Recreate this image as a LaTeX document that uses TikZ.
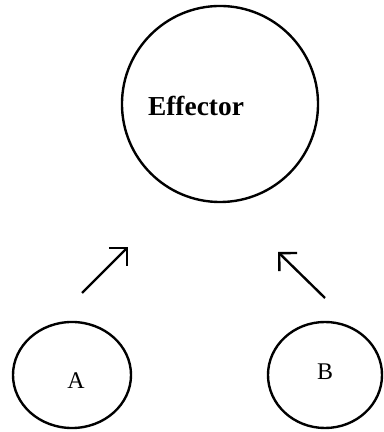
\documentclass[tikz,border=0pt]{standalone}
\usepackage{fontspec}
\setmainfont{Liberation Serif}
\usetikzlibrary{arrows.meta,shapes.geometric}
\tikzset{
  big/.style   ={draw,circle,line width=1.7pt,minimum size=4.9cm,inner sep=0pt},
  small/.style ={draw,ellipse,line width=1.7pt,inner sep=0pt},
  lbl/.style   ={font=\fontsize{19.5}{21}\selectfont\bfseries,inner sep=0pt},
  tag/.style   ={font=\fontsize{17}{19}\selectfont,inner sep=0pt},
  ar/.style    ={-{Straight Barb[length=9pt,width=18pt,line width=1.7pt]},line width=1.7pt},
}
\begin{document}
\begin{tikzpicture}[x=0.025cm,y=0.025cm]
  \useasboundingbox (0,0) rectangle (383,432);
  \node[big] (eff) at (220,328) {};
  \node[lbl] (efft) at (196,326) {Effector};
  \node[small,minimum width=2.95cm,minimum height=2.65cm] (a) at (72,57) {};
  \node[tag] (at) at (76,51) {A};
  \node[small,minimum width=2.85cm,minimum height=2.65cm] (b) at (325,57) {};
  \node[tag] (bt) at (325,60) {B};
  \coordinate (a1) at (82,139);
  \coordinate (a2) at (128,185);
  \coordinate (b1) at (325,134);
  \coordinate (b2) at (278,180);
  \draw[ar] (a1) -- (a2);
  \draw[ar] (b1) -- (b2);
\end{tikzpicture}
\end{document}
